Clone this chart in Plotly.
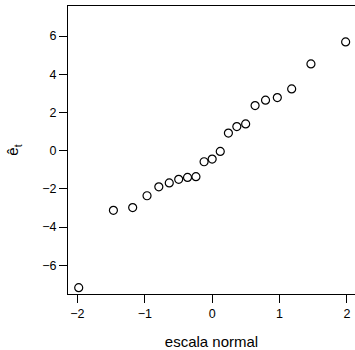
import plotly.graph_objects as go

# theoretical normal quantiles (qnorm(ppoints(21)))
escala_normal = [-1.981, -1.466, -1.180, -0.967, -0.792, -0.637, -0.497, -0.366, -0.241, -0.120, 0.0,
                 0.120, 0.241, 0.366, 0.497, 0.637, 0.792, 0.967, 1.180, 1.466, 1.981]
# ordered residuals
residuos = [-7.17, -3.12, -2.98, -2.36, -1.89, -1.69, -1.50, -1.40, -1.36, -0.58, -0.44,
            -0.04, 0.92, 1.26, 1.40, 2.36, 2.64, 2.78, 3.23, 4.54, 5.69]

x_ticks = [-2, -1, 0, 1, 2]
y_ticks = [-6, -4, -2, 0, 2, 4, 6]

font = dict(family="Liberation Sans, Arial, sans-serif", size=12.5, color="black")

fig = go.Figure(go.Scatter(
    x=escala_normal, y=residuos, mode="markers",
    marker=dict(symbol="circle-open", size=8, color="black", line=dict(width=1.2, color="black")),
    showlegend=False, hoverinfo="skip"))

fig.update_layout(
    width=355, height=350,
    margin=dict(l=68, r=0, t=6, b=56),
    paper_bgcolor="white", plot_bgcolor="white",
    font=font,
    xaxis=dict(range=[-2.14, 2.12], tickvals=x_ticks, ticktext=["\u22122", "\u22121", "0", "1", "2"],
               showgrid=False, zeroline=False, showline=True, linecolor="black", linewidth=1,
               mirror=True, ticks="outside", ticklen=8, tickwidth=1, tickcolor="black",
               title=dict(text="escala normal", standoff=17), tickfont=font),
    yaxis=dict(range=[-7.5, 7.57], tickvals=y_ticks,
               ticktext=["\u22126", "\u22124", "\u22122", "0", "2", "4", "6"],
               showgrid=False, zeroline=False, showline=True, linecolor="black", linewidth=1,
               ticks="outside", ticklen=8, tickwidth=1, tickcolor="black",
               title=dict(text="\u00ea<sub>t</sub>", standoff=19), tickfont=font),
)

fig.write_html("out.html")
